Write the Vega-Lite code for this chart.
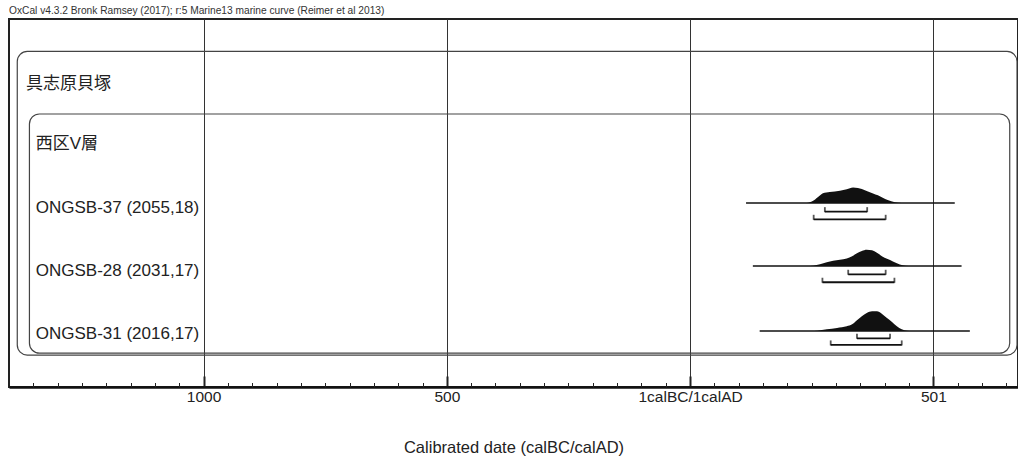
{
  "$schema": "https://vega.github.io/schema/vega-lite/v6.json",
  "width": 1009,
  "height": 368,
  "autosize": {"type": "none"},
  "padding": {"left": 9, "top": 19, "right": 0, "bottom": 71},
  "background": "white",
  "view": {"stroke": "#222", "strokeWidth": 2},
  "title": {
    "text": "OxCal v4.3.2 Bronk Ramsey (2017); r:5 Marine13 marine curve (Reimer et al 2013)",
    "anchor": "start",
    "frame": "group",
    "font": "Liberation Sans",
    "fontSize": 10.2,
    "fontWeight": "normal",
    "color": "#333",
    "offset": 3
  },
  "datasets": {
    "boxes": [
      {"box": "具志原貝塚", "x1": -1383, "x2": 672, "y1": 0.518, "y2": 5.36},
      {"box": "西区V層", "x1": -1358, "x2": 657, "y1": 1.515, "y2": 5.33}
    ],
    "labels": [
      {"label": "具志原貝塚", "t": -1365, "y": 1.03},
      {"label": "西区V層", "t": -1345, "y": 2.0},
      {"label": "ONGSB-37 (2055,18)", "t": -1345, "y": 3.02},
      {"label": "ONGSB-28 (2031,17)", "t": -1345, "y": 4.02},
      {"label": "ONGSB-31 (2016,17)", "t": -1345, "y": 5.02}
    ],
    "lines": [
      {"s": "ONGSB-37", "lo": 115, "hi": 544, "y": 2.935},
      {"s": "ONGSB-28", "lo": 129, "hi": 558, "y": 3.94},
      {"s": "ONGSB-31", "lo": 143, "hi": 575, "y": 4.976}
    ],
    "dist": [
      {"s": "ONGSB-37", "t": 240, "top": 2.935, "base": 2.935},
      {"s": "ONGSB-37", "t": 252, "top": 2.903, "base": 2.935},
      {"s": "ONGSB-37", "t": 263, "top": 2.839, "base": 2.935},
      {"s": "ONGSB-37", "t": 273, "top": 2.779, "base": 2.935},
      {"s": "ONGSB-37", "t": 287, "top": 2.76, "base": 2.935},
      {"s": "ONGSB-37", "t": 308, "top": 2.739, "base": 2.935},
      {"s": "ONGSB-37", "t": 322, "top": 2.717, "base": 2.935},
      {"s": "ONGSB-37", "t": 335, "top": 2.688, "base": 2.935},
      {"s": "ONGSB-37", "t": 345, "top": 2.696, "base": 2.935},
      {"s": "ONGSB-37", "t": 353, "top": 2.712, "base": 2.935},
      {"s": "ONGSB-37", "t": 363, "top": 2.744, "base": 2.935},
      {"s": "ONGSB-37", "t": 376, "top": 2.782, "base": 2.935},
      {"s": "ONGSB-37", "t": 386, "top": 2.812, "base": 2.935},
      {"s": "ONGSB-37", "t": 396, "top": 2.85, "base": 2.935},
      {"s": "ONGSB-37", "t": 406, "top": 2.887, "base": 2.935},
      {"s": "ONGSB-37", "t": 421, "top": 2.922, "base": 2.935},
      {"s": "ONGSB-37", "t": 435, "top": 2.935, "base": 2.935},
      {"s": "ONGSB-28", "t": 240, "top": 3.94, "base": 3.94},
      {"s": "ONGSB-28", "t": 253, "top": 3.935, "base": 3.94},
      {"s": "ONGSB-28", "t": 267, "top": 3.913, "base": 3.94},
      {"s": "ONGSB-28", "t": 281, "top": 3.88, "base": 3.94},
      {"s": "ONGSB-28", "t": 294, "top": 3.855, "base": 3.94},
      {"s": "ONGSB-28", "t": 308, "top": 3.84, "base": 3.94},
      {"s": "ONGSB-28", "t": 322, "top": 3.82, "base": 3.94},
      {"s": "ONGSB-28", "t": 333, "top": 3.785, "base": 3.94},
      {"s": "ONGSB-28", "t": 343, "top": 3.737, "base": 3.94},
      {"s": "ONGSB-28", "t": 353, "top": 3.701, "base": 3.94},
      {"s": "ONGSB-28", "t": 363, "top": 3.68, "base": 3.94},
      {"s": "ONGSB-28", "t": 374, "top": 3.69, "base": 3.94},
      {"s": "ONGSB-28", "t": 384, "top": 3.728, "base": 3.94},
      {"s": "ONGSB-28", "t": 396, "top": 3.792, "base": 3.94},
      {"s": "ONGSB-28", "t": 411, "top": 3.844, "base": 3.94},
      {"s": "ONGSB-28", "t": 425, "top": 3.897, "base": 3.94},
      {"s": "ONGSB-28", "t": 437, "top": 3.929, "base": 3.94},
      {"s": "ONGSB-28", "t": 448, "top": 3.94, "base": 3.94},
      {"s": "ONGSB-31", "t": 250, "top": 4.976, "base": 4.976},
      {"s": "ONGSB-31", "t": 261, "top": 4.971, "base": 4.976},
      {"s": "ONGSB-31", "t": 281, "top": 4.949, "base": 4.976},
      {"s": "ONGSB-31", "t": 302, "top": 4.928, "base": 4.976},
      {"s": "ONGSB-31", "t": 322, "top": 4.901, "base": 4.976},
      {"s": "ONGSB-31", "t": 333, "top": 4.869, "base": 4.976},
      {"s": "ONGSB-31", "t": 343, "top": 4.805, "base": 4.976},
      {"s": "ONGSB-31", "t": 353, "top": 4.742, "base": 4.976},
      {"s": "ONGSB-31", "t": 363, "top": 4.689, "base": 4.976},
      {"s": "ONGSB-31", "t": 374, "top": 4.662, "base": 4.976},
      {"s": "ONGSB-31", "t": 384, "top": 4.662, "base": 4.976},
      {"s": "ONGSB-31", "t": 394, "top": 4.7, "base": 4.976},
      {"s": "ONGSB-31", "t": 404, "top": 4.764, "base": 4.976},
      {"s": "ONGSB-31", "t": 415, "top": 4.832, "base": 4.976},
      {"s": "ONGSB-31", "t": 425, "top": 4.901, "base": 4.976},
      {"s": "ONGSB-31", "t": 435, "top": 4.949, "base": 4.976},
      {"s": "ONGSB-31", "t": 446, "top": 4.971, "base": 4.976},
      {"s": "ONGSB-31", "t": 455, "top": 4.976, "base": 4.976}
    ],
    "ranges": [
      {"s": "ONGSB-37", "level": "68.2%", "lo": 277, "hi": 364, "y": 3.073},
      {"s": "ONGSB-37", "level": "95.4%", "lo": 254, "hi": 402, "y": 3.195},
      {"s": "ONGSB-28", "level": "68.2%", "lo": 325, "hi": 402, "y": 4.072},
      {"s": "ONGSB-28", "level": "95.4%", "lo": 272, "hi": 420, "y": 4.199},
      {"s": "ONGSB-31", "level": "68.2%", "lo": 343, "hi": 411, "y": 5.093},
      {"s": "ONGSB-31", "level": "95.4%", "lo": 289, "hi": 435, "y": 5.199}
    ]
  },
  "resolve": {"axis": {"x": "independent"}},
  "layer": [
    {
      "data": {"name": "lines"},
      "mark": {"type": "rule", "color": "#111", "strokeWidth": 1.5},
      "encoding": {
        "x": {
          "field": "lo", "type": "quantitative",
          "scale": {"domain": [-1400, 674], "nice": false, "zero": false},
          "axis": {
            "orient": "bottom",
            "values": [-1000, -500, 0, 500],
            "labelExpr": "datum.value === 0 ? '1calBC/1calAD' : datum.value === 500 ? '501' : datum.value === -500 ? '500' : datum.value === -1000 ? '1000' : ''",
            "grid": true,
            "gridColor": "#333",
            "gridWidth": 1,
            "tickSize": -11,
            "tickWidth": 2,
            "tickColor": "#222",
            "domainColor": "#111",
            "domainWidth": 2.5,
            "labelFont": "Liberation Sans",
            "labelFontSize": 15.5,
            "labelColor": "#222",
            "labelPadding": 13,
            "labelOverlap": false,
            "labelFlush": false,
            "title": "Calibrated date (calBC/calAD)",
            "titleFont": "Liberation Sans",
            "titleFontSize": 16.5,
            "titleFontWeight": "normal",
            "titleColor": "#222",
            "titlePadding": 35
          }
        },
        "x2": {"field": "hi"},
        "y": {"field": "y", "type": "quantitative", "scale": {"domain": [0, 5.87], "reverse": true, "nice": false, "zero": false}, "axis": null}
      }
    },
    {
      "data": {"name": "boxes"},
      "mark": {"type": "rect", "fill": null, "fillOpacity": 0, "stroke": "#444", "strokeWidth": 1.2, "cornerRadius": 10},
      "encoding": {
        "x": {"field": "x1", "type": "quantitative", "scale": {"domain": [-1400, 674], "nice": false, "zero": false}, "axis": null},
        "x2": {"field": "x2"},
        "y": {"field": "y1", "type": "quantitative", "scale": {"domain": [0, 5.87], "reverse": true, "nice": false, "zero": false}, "axis": null},
        "y2": {"field": "y2"}
      }
    },
    {
      "data": {"name": "labels"},
      "mark": {"type": "text", "align": "left", "baseline": "middle", "font": "Liberation Sans, Noto Sans CJK JP, sans-serif", "fontSize": 17, "color": "#222"},
      "encoding": {
        "x": {"field": "t", "type": "quantitative", "scale": {"domain": [-1400, 674], "nice": false, "zero": false}, "axis": null},
        "y": {"field": "y", "type": "quantitative", "scale": {"domain": [0, 5.87], "reverse": true, "nice": false, "zero": false}, "axis": null},
        "text": {"field": "label"}
      }
    },
    {
      "data": {"name": "dist"},
      "mark": {"type": "area", "color": "#111", "interpolate": "monotone"},
      "encoding": {
        "x": {"field": "t", "type": "quantitative", "scale": {"domain": [-1400, 674], "nice": false, "zero": false}, "axis": null},
        "y": {"field": "top", "type": "quantitative", "stack": null, "scale": {"domain": [0, 5.87], "reverse": true, "nice": false, "zero": false}, "axis": null},
        "y2": {"field": "base"},
        "detail": {"field": "s"}
      }
    },
    {
      "data": {"name": "ranges"},
      "mark": {"type": "rule", "color": "#111", "strokeWidth": 1.8},
      "encoding": {
        "x": {
          "field": "lo", "type": "quantitative",
          "scale": {"domain": [-1400, 674], "nice": false, "zero": false},
          "axis": {
            "orient": "bottom",
            "values": [-1350,-1300,-1250,-1200,-1150,-1100,-1050,-950,-900,-850,-800,-750,-700,-650,-600,-550,-450,-400,-350,-300,-250,-200,-150,-100,-50,50,100,150,200,250,300,350,400,450,550,600,650],
            "labels": false,
            "grid": false,
            "domain": false,
            "ticks": true,
            "tickSize": -4.5,
            "tickWidth": 1,
            "tickColor": "#222",
            "title": null
          }
        },
        "x2": {"field": "hi"},
        "y": {"field": "y", "type": "quantitative", "scale": {"domain": [0, 5.87], "reverse": true, "nice": false, "zero": false}, "axis": null}
      }
    },
    {
      "data": {"name": "ranges"},
      "mark": {"type": "tick", "orient": "vertical", "color": "#111", "size": 5, "thickness": 1.8, "yOffset": -2},
      "encoding": {
        "x": {"field": "lo", "type": "quantitative", "scale": {"domain": [-1400, 674], "nice": false, "zero": false}, "axis": null},
        "y": {"field": "y", "type": "quantitative", "scale": {"domain": [0, 5.87], "reverse": true, "nice": false, "zero": false}, "axis": null}
      }
    },
    {
      "data": {"name": "ranges"},
      "mark": {"type": "tick", "orient": "vertical", "color": "#111", "size": 5, "thickness": 1.8, "yOffset": -2},
      "encoding": {
        "x": {"field": "hi", "type": "quantitative", "scale": {"domain": [-1400, 674], "nice": false, "zero": false}, "axis": null},
        "y": {"field": "y", "type": "quantitative", "scale": {"domain": [0, 5.87], "reverse": true, "nice": false, "zero": false}, "axis": null}
      }
    }
  ]
}
